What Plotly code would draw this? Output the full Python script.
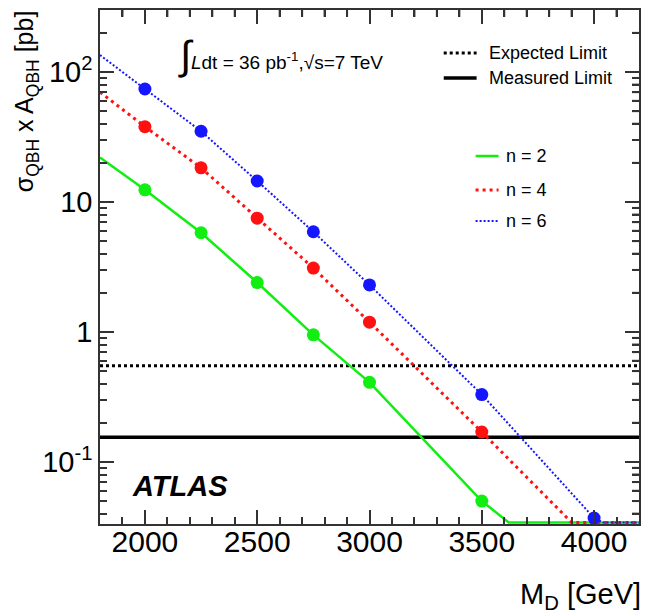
import plotly.graph_objects as go
import numpy as np

# ---- data ----
md_points = [2000, 2250, 2500, 2750, 3000, 3500]
md_points_n6 = [2000, 2250, 2500, 2750, 3000, 3500, 4000]
xs_n2 = [12.4, 5.8, 2.4, 0.95, 0.41, 0.05]
xs_n4 = [38.0, 18.3, 7.5, 3.1, 1.19, 0.17]
xs_n6 = [74.0, 35.0, 14.5, 5.9, 2.3, 0.33, 0.037]

# fitted curves (knots; floor = lower plot edge)
Y_FLOOR = 0.0342
curve_n2_x = [1800, 2000, 2250, 2500, 2750, 3000, 3500, 3620, 4200]
curve_n2_y = [22.0, 12.4, 5.8, 2.4, 0.95, 0.41, 0.05, Y_FLOOR, Y_FLOOR]
curve_n4_x = [1800, 2000, 2250, 2500, 2750, 3000, 3500, 3900, 4200]
curve_n4_y = [70.0, 38.0, 18.3, 7.5, 3.1, 1.19, 0.17, Y_FLOOR, Y_FLOOR]
curve_n6_x = [1800, 2000, 2250, 2500, 2750, 3000, 3500, 4000, 4040, 4200]
curve_n6_y = [135.0, 74.0, 35.0, 14.5, 5.9, 2.3, 0.33, 0.037, Y_FLOOR, Y_FLOOR]

expected_limit = 0.55
measured_limit = 0.155

x_range = [1800, 4200]
y_range = [0.0333, 300]
x_ticks = [2000, 2500, 3000, 3500, 4000]
x_minor = [v for v in range(1900, 4200, 100) if v % 500 != 0]
y_tickvals = [0.1, 1, 10, 100]
y_ticktext = ["10<sup>-1</sup>", "1", "10", "10<sup>2</sup>"]
y_minor = [k * 10.0 ** e for e in range(-2, 3) for k in range(2, 10)
           if y_range[0] < k * 10.0 ** e < y_range[1]]

GREEN = "#11ee11"
RED = "#ff1111"
BLUE = "#1515ff"
FONT = "Liberation Sans, Arial, Helvetica, sans-serif"
AX = "#333"
TW = 2

fig = go.Figure()

# limit lines
fig.add_trace(go.Scatter(x=x_range, y=[expected_limit]*2, mode="lines",
                         line=dict(color="black", width=3, dash="3px,3px"), showlegend=False))
fig.add_trace(go.Scatter(x=x_range, y=[measured_limit]*2, mode="lines",
                         line=dict(color="black", width=3.5), showlegend=False))

# curves
fig.add_trace(go.Scatter(x=curve_n2_x, y=curve_n2_y, mode="lines",
                         line=dict(color=GREEN, width=2.5), showlegend=False))
fig.add_trace(go.Scatter(x=curve_n4_x, y=curve_n4_y, mode="lines",
                         line=dict(color=RED, width=3, dash="3px,4px"), showlegend=False))
fig.add_trace(go.Scatter(x=curve_n6_x, y=curve_n6_y, mode="lines",
                         line=dict(color=BLUE, width=2, dash="2px,2px"), showlegend=False))

# points
for xx, yy, c in [(md_points, xs_n2, GREEN), (md_points, xs_n4, RED), (md_points_n6, xs_n6, BLUE)]:
    fig.add_trace(go.Scatter(x=xx, y=yy, mode="markers",
                             marker=dict(color=c, size=13, line=dict(width=0)),
                             showlegend=False, cliponaxis=False))

PW, PH = 541.0, 514.0
DEC = PH / (np.log10(y_range[1]) - np.log10(y_range[0]))  # px per decade

# mirrored minor ticks on the top and right edges (native axes mirror only major ticks)
for v in y_minor:
    fig.add_shape(type="line", xref="paper", yref="y", x0=1, x1=1 - 7 / PW, y0=v, y1=v,
                  line=dict(color=AX, width=TW), layer="above")
for v in x_minor:
    fig.add_shape(type="line", xref="x", yref="y", x0=v, x1=v,
                  y0=y_range[1], y1=y_range[1] / 10 ** (7 / DEC),
                  line=dict(color=AX, width=TW), layer="above")

# legend samples (paper coords)
def px_x(p):
    return (p - 100) / PW

def px_y(p):
    return 1 - (p - 10) / PH

LEGFONT = 18
leg = [
    (445, 478, 53, "black", 3, "3px,3px", "Expected Limit", 488),
    (445, 478, 78, "black", 3.5, None, "Measured Limit", 488),
    (477, 500, 156, GREEN, 2.5, None, "n = 2", 506),
    (477, 500, 190, RED, 3, "3px,4px", "n = 4", 506),
    (477, 500, 221, BLUE, 2, "2px,2px", "n = 6", 506),
]
for x0, x1, yy, c, w, d, t, tx in leg:
    ln = dict(color=c, width=w)
    if d:
        ln["dash"] = d
    fig.add_shape(type="line", xref="paper", yref="paper", x0=px_x(x0), x1=px_x(x1),
                  y0=px_y(yy), y1=px_y(yy), line=ln)
    fig.add_annotation(xref="paper", yref="paper", x=px_x(tx), y=px_y(yy), text=t,
                       showarrow=False, xanchor="left", yanchor="middle",
                       font=dict(family=FONT, size=LEGFONT, color="black"))

# energy / lumi label
fig.add_annotation(xref="paper", yref="paper", x=px_x(176), y=px_y(55),
                   text="<span style='font-size:40px'>∫</span><i>L</i>dt = 36 pb<sup>-1</sup>,√s=7 TeV",
                   showarrow=False, xanchor="left", yanchor="middle",
                   font=dict(family=FONT, size=19, color="black"))

# ATLAS
fig.add_annotation(xref="paper", yref="paper", x=px_x(130), y=px_y(486),
                   text="<b><i>ATLAS</i></b>", showarrow=False, xanchor="left", yanchor="middle",
                   font=dict(family=FONT, size=29, color="black"))

# axis titles
fig.add_annotation(xref="paper", yref="paper", x=px_x(645), y=px_y(596),
                   text="M<sub>D</sub> [GeV]", showarrow=False, xanchor="right", yanchor="middle",
                   font=dict(family=FONT, size=29, color="black"))
fig.add_annotation(xref="paper", yref="paper", x=px_x(26), y=px_y(8),
                   text="σ<sub>QBH</sub> x A<sub>QBH</sub> [pb]", showarrow=False, textangle=-90,
                   xanchor="center", yanchor="top",
                   font=dict(family=FONT, size=25, color="black"))

common = dict(showline=True, mirror="allticks", linecolor=AX, linewidth=1.5,
              ticks="inside", ticklen=14, tickwidth=TW, tickcolor=AX,
              showgrid=False, zeroline=False)

fig.update_layout(
    xaxis=dict(range=x_range, tickvals=x_ticks, ticklabelstandoff=-10,
               tickfont=dict(family=FONT, size=30, color="black"),
               minor=dict(ticks="inside", tickvals=x_minor, ticklen=7, tickwidth=TW,
                          tickcolor=AX, showgrid=False),
               **common),
    yaxis=dict(type="log", range=[np.log10(y_range[0]), np.log10(y_range[1])],
               tickvals=y_tickvals, ticktext=y_ticktext,
               tickfont=dict(family=FONT, size=29, color="black"),
               minor=dict(ticks="inside", tickvals=y_minor, ticklen=7, tickwidth=TW,
                          tickcolor=AX, showgrid=False),
               **common),
    width=646, height=614, margin=dict(l=100, r=5, t=10, b=90),
    plot_bgcolor="white", paper_bgcolor="white", showlegend=False,
    font=dict(family=FONT),
)

fig.write_html("out.html", config={"displayModeBar": False},
               post_script="document.body.style.margin='0px';")
